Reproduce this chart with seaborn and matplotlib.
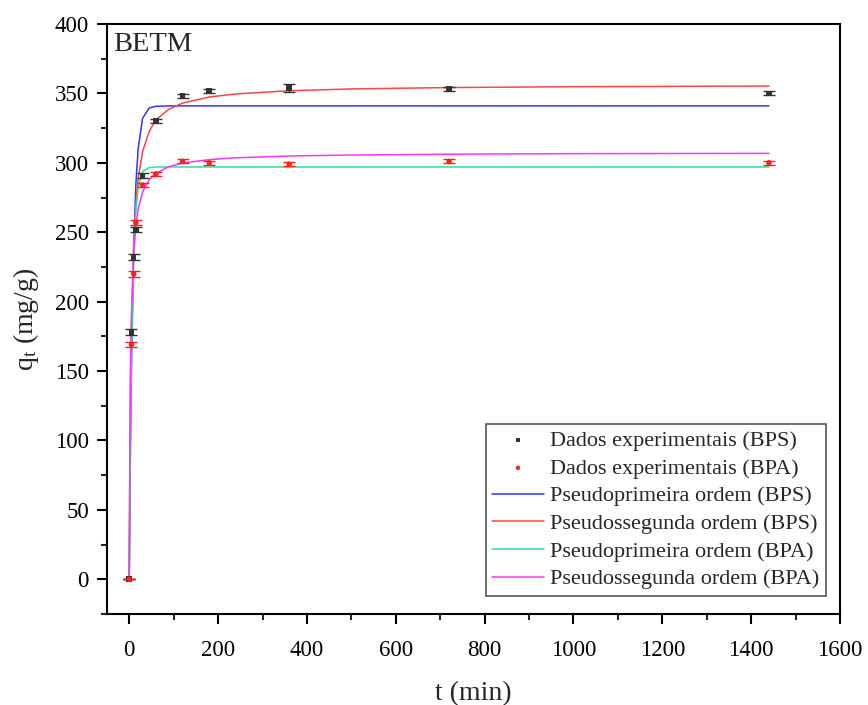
import matplotlib
matplotlib.use("Agg")
import matplotlib.pyplot as plt
import seaborn as sns
import pandas as pd
from matplotlib.ticker import MultipleLocator

# experimental data
t_exp = [0, 5, 10, 15, 30, 60, 120, 180, 360, 720, 1440]
q_bps = [0, 178, 232, 252, 291, 330, 348, 352, 354, 353, 350]
err_bps = [0, 2, 2, 2, 2, 1.5, 1.5, 1.5, 3, 1.5, 1.5]
q_bpa = [0, 169, 220, 257, 284, 292, 301, 300, 299, 301, 300]
err_bpa = [0, 2, 2, 2, 1.5, 1.5, 1.5, 1.5, 1.5, 1.5, 1.5]

# model curves
t_fit = [0, 1, 2, 3, 5, 10, 15, 20, 30, 45, 60, 90, 120, 180, 240, 360, 500, 720, 1000, 1440]
pfo_bps = [0, 38, 73, 103, 154, 238, 285, 310, 332, 339.5, 340.7, 341, 341, 341, 341, 341, 341, 341, 341, 341]
pso_bps = [0, 62, 106, 146, 183.5, 242, 271, 288.5, 308, 322.7, 331, 338.7, 343, 347.4, 349.6, 351.9, 353.2, 354.2, 354.8, 355.3]
pfo_bpa = [0, 41, 77, 108, 157, 231, 266, 282, 293.7, 296.6, 297, 297, 297, 297, 297, 297, 297, 297, 297, 297]
pso_bpa = [0, 75, 121, 158, 190, 235, 255, 266.5, 279, 287.8, 292.5, 297.3, 299.8, 302.3, 303.6, 304.9, 305.6, 306.2, 306.6, 306.8]

sns.set_style("ticks")
plt.rcParams['font.family'] = ['Liberation Serif', 'DejaVu Serif']
plt.rcParams['mathtext.fontset'] = 'custom'
plt.rcParams['mathtext.rm'] = 'Liberation Serif'
plt.rcParams['mathtext.it'] = 'Liberation Serif'

fig = plt.figure(figsize=(8.68, 7.05), dpi=100)
ax = fig.add_axes([0.1233, 0.1291, 0.8445, 0.8369])

df_exp = pd.DataFrame({"t": t_exp, "bps": q_bps, "bpa": q_bpa})
df_fit = pd.DataFrame({"t": t_fit, "pfo_bps": pfo_bps, "pso_bps": pso_bps,
                       "pfo_bpa": pfo_bpa, "pso_bpa": pso_bpa})

ax.errorbar(t_exp, q_bps, yerr=err_bps, fmt='none', ecolor='#333333', elinewidth=1, capsize=4, capthick=1, zorder=3)
ax.errorbar(t_exp, q_bpa, yerr=err_bpa, fmt='none', ecolor='#ff2020', elinewidth=1, capsize=4, capthick=1, zorder=3)
sns.scatterplot(data=df_exp, x="t", y="bps", ax=ax, marker='s', s=16, color='#333333',
                edgecolor='none', label="Dados experimentais (BPS)", zorder=4)
sns.scatterplot(data=df_exp, x="t", y="bpa", ax=ax, marker='o', s=16, color='#ff2020',
                edgecolor='none', label="Dados experimentais (BPA)", zorder=4)
sns.lineplot(data=df_fit, x="t", y="pfo_bps", ax=ax, color='#3333ff', lw=1.1, label="Pseudoprimeira ordem (BPS)")
sns.lineplot(data=df_fit, x="t", y="pso_bps", ax=ax, color='#ff4444', lw=1.1, label="Pseudossegunda ordem (BPS)")
sns.lineplot(data=df_fit, x="t", y="pfo_bpa", ax=ax, color='#33dd99', lw=1.1, label="Pseudoprimeira ordem (BPA)")
sns.lineplot(data=df_fit, x="t", y="pso_bpa", ax=ax, color='#ff33ff', lw=1.1, label="Pseudossegunda ordem (BPA)")

ax.set_xlim(-50, 1600)
ax.set_ylim(-25, 400)
ax.xaxis.set_major_locator(MultipleLocator(200))
ax.xaxis.set_minor_locator(MultipleLocator(100))
ax.yaxis.set_major_locator(MultipleLocator(50))
ax.yaxis.set_minor_locator(MultipleLocator(25))
ax.tick_params(axis='both', which='major', direction='out', length=7, width=1.5, labelsize=16.5, colors='black')
ax.tick_params(axis='x', which='major', pad=12)
ax.tick_params(axis='y', which='major', pad=6)
ax.tick_params(axis='both', which='minor', direction='out', length=4, width=1.5)
ax.tick_params(top=False, right=False)
for sp in ax.spines.values():
    sp.set_linewidth(1.5)
    sp.set_color('black')

ax.set_xlabel("t (min)", fontsize=20, labelpad=14)
ax.set_ylabel(r"q$_\mathregular{t}$ (mg/g)", fontsize=20, labelpad=10)
ax.text(0.008, 0.987, "BETM", transform=ax.transAxes, fontsize=20.5, va='top', ha='left')

leg = ax.legend(loc='lower right', bbox_to_anchor=(0.981, 0.0305), fontsize=16, frameon=True,
                fancybox=False, edgecolor='#555555', framealpha=1, handlelength=2.3,
                borderpad=0.3, labelspacing=0.32, handletextpad=0.3, borderaxespad=0,
                markerscale=0.8)
leg.get_frame().set_linewidth(1.2)

fig.savefig("out.png", dpi=100)
